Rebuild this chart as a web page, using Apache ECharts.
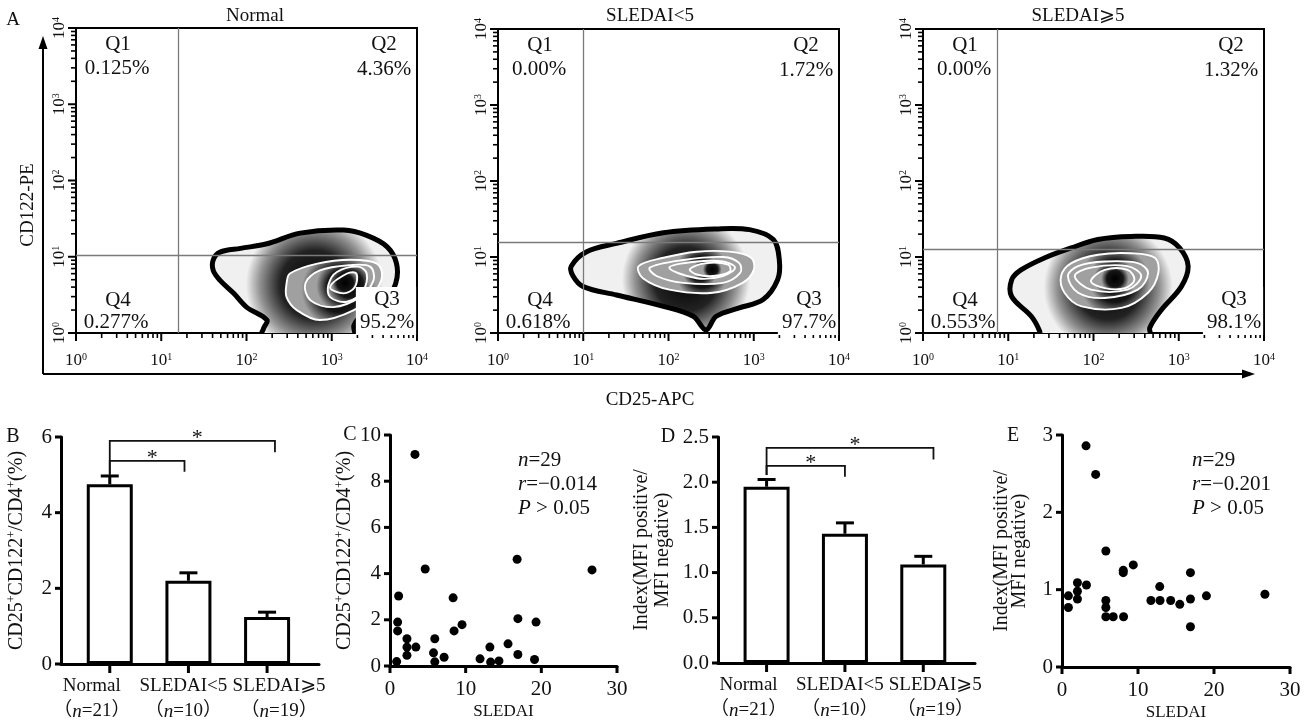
<!DOCTYPE html>
<html>
<head>
<meta charset="utf-8">
<script src="https://cdn.jsdelivr.net/npm/echarts@6/dist/echarts.min.js"></script>
<style>
  html, body { margin: 0; padding: 0; background: #fff; }
  #chart { width: 1305px; height: 724px; }
</style>
</head>
<body>
<div id="chart"></div>
<script>
// ---------- data ----------
// A: flow plots, all coordinates are log10 decades (10^0 .. 10^4)
const flowTitles = ['Normal', 'SLEDAI<5', 'SLEDAI⩾5'];
const decades = [0, 1, 2, 3, 4];
const flowGates = [[1.2, 1.02], [1.0, 1.2], [0.87, 1.1]]; // [x gate, y gate]
const normalQuad = ['0.125%', '4.36%', '95.2%', '0.277%']; // Q1 Q2 Q3 Q4
const lowQuad = ['0.00%', '1.72%', '97.7%', '0.618%'];
const highQuad = ['0.00%', '1.32%', '98.1%', '0.553%'];

// contour rings, outermost first
const normalContours = [
  [[1.61, 0.96], [1.69, 1.06], [1.93, 1.11], [2.24, 1.17], [2.63, 1.31], [3.14, 1.35], [3.41, 1.28], [3.65, 1.13], [3.76, 0.91], [3.75, 0.65], [3.61, 0.39], [3.37, 0.25], [3.26, 0.10], [3.26, -0.05], [2.18, -0.05], [2.20, 0.06], [2.24, 0.17], [2.00, 0.34], [1.85, 0.52], [1.69, 0.69], [1.61, 0.82]],
  [[2.47, 0.65], [2.51, 0.78], [2.83, 0.91], [3.22, 0.96], [3.53, 0.91], [3.59, 0.74], [3.49, 0.52], [3.26, 0.30], [2.86, 0.17], [2.59, 0.30], [2.47, 0.47]],
  [[2.69, 0.65], [2.86, 0.82], [3.22, 0.89], [3.45, 0.87], [3.49, 0.69], [3.33, 0.47], [3.02, 0.34], [2.75, 0.43]],
  [[2.96, 0.63], [3.06, 0.80], [3.31, 0.87], [3.41, 0.78], [3.37, 0.56], [3.18, 0.41], [2.98, 0.47]],
  [[2.98, 0.60], [3.18, 0.78], [3.29, 0.78], [3.27, 0.60], [3.14, 0.52]]
];
const lowContours = [
  [[0.86, 0.88], [1.04, 1.07], [1.39, 1.18], [1.94, 1.32], [2.56, 1.37], [2.95, 1.36], [3.23, 1.23], [3.30, 0.96], [3.28, 0.70], [3.11, 0.44], [2.83, 0.33], [2.56, 0.22], [2.44, 0.04], [2.29, 0.22], [1.94, 0.35], [1.39, 0.50], [1.00, 0.61], [0.88, 0.75]],
  [[1.65, 0.88], [1.94, 0.99], [2.33, 1.07], [2.72, 1.07], [2.97, 0.99], [3.00, 0.83], [2.87, 0.66], [2.52, 0.53], [2.01, 0.57], [1.70, 0.72]],
  [[1.78, 0.86], [2.17, 0.96], [2.64, 1.00], [2.83, 0.92], [2.84, 0.79], [2.64, 0.66], [2.17, 0.66], [1.86, 0.75]],
  [[2.01, 0.86], [2.33, 0.94], [2.64, 0.94], [2.78, 0.86], [2.64, 0.75], [2.33, 0.72]],
  [[2.25, 0.84], [2.44, 0.92], [2.70, 0.90], [2.72, 0.81], [2.52, 0.75], [2.33, 0.77]]
];
const highContours = [
  [[1.37, -0.05], [1.37, 0.02], [1.27, 0.22], [1.04, 0.48], [1.04, 0.70], [1.15, 0.83], [1.43, 0.99], [1.74, 1.12], [2.05, 1.23], [2.44, 1.27], [2.83, 1.25], [3.01, 1.12], [3.11, 0.88], [3.03, 0.61], [2.80, 0.31], [2.66, 0.07], [2.66, -0.05]],
  [[1.62, 0.75], [1.74, 0.92], [2.05, 1.03], [2.44, 1.05], [2.72, 0.99], [2.76, 0.79], [2.64, 0.53], [2.33, 0.33], [1.86, 0.35], [1.66, 0.53]],
  [[1.70, 0.75], [1.82, 0.88], [2.13, 0.94], [2.52, 0.92], [2.64, 0.79], [2.52, 0.57], [2.13, 0.46], [1.82, 0.53]],
  [[1.78, 0.75], [1.97, 0.86], [2.40, 0.88], [2.56, 0.75], [2.40, 0.57], [1.97, 0.57]],
  [[1.97, 0.68], [2.13, 0.83], [2.40, 0.83], [2.48, 0.70], [2.37, 0.59], [2.13, 0.59]]
];

// B, D: group bars
const groups = ['Normal', 'SLEDAI<5', 'SLEDAI⩾5'];
const groupN = [21, 10, 19];
const groupPos = [0, 1, 2];
const ratioMean = [4.75, 2.2, 1.24];
const ratioTop = [4.97, 2.41, 1.37];
const ratioTicks = [0, 2, 4, 6];
const indexMean = [1.95, 1.43, 1.09];
const indexTop = [2.03, 1.55, 1.18];
const indexTicks = [0, 0.5, 1, 1.5, 2, 2.5];
// [from, to, level, left leg end, right leg end]
const ratioBrackets = [[0, 0.95, 5.37, 5.0, 5.08], [0, 2.1, 5.9, 5.0, 5.6]];
const indexBrackets = [[0, 1.0, 2.18, 2.08, 2.06], [0, 2.13, 2.38, 2.08, 2.25]];

// C, E: SLEDAI vs value
const sledaiTicks = [0, 10, 20, 30];
const ratioScatterTicks = [0, 2, 4, 6, 8, 10];
const indexScatterTicks = [0, 1, 2, 3];
const sledaiRatio = [
  [3.3, 9.16], [4.65, 4.2], [26.7, 4.16], [16.8, 4.62], [1.14, 3.03], [8.34, 2.95],
  [1.01, 1.9], [1.01, 1.52], [16.9, 2.05], [19.3, 1.9], [8.47, 1.52], [9.52, 1.79],
  [2.24, 1.18], [5.92, 1.18], [2.24, 0.82], [3.42, 0.82], [2.24, 0.46], [5.75, 0.57],
  [7.15, 0.38], [5.92, 0.18], [0.88, 0.19], [13.2, 0.82], [15.6, 0.96], [16.9, 0.5],
  [11.9, 0.31], [13.3, 0.17], [14.4, 0.22], [19.1, 0.28]
];
const sledaiIndex = [
  [3.16, 2.86], [4.43, 2.49], [5.77, 1.5], [8.06, 1.25], [8.06, 1.22], [9.38, 1.32],
  [16.9, 1.22], [0.84, 0.92], [0.84, 0.77], [2.03, 1.09], [2.03, 0.98], [2.03, 0.88],
  [3.22, 1.06], [5.77, 0.86], [5.77, 0.77], [5.77, 0.65], [6.74, 0.65], [8.1, 0.65],
  [11.7, 0.86], [12.86, 1.04], [12.9, 0.86], [14.3, 0.86], [15.5, 0.81], [16.9, 0.88],
  [16.9, 0.52], [19.0, 0.92], [26.7, 0.94]
];

// ---------- chart ----------
const SERIF = '"Liberation Serif", "DejaVu Serif", "DejaVu Sans", "Noto Sans CJK SC", serif';
const INK = '#111';

// minor log ticks 2..9 inside every decade
const minorTicks = [];
for (let d = 0; d < 4; d++) {
  for (let k = 2; k < 10; k++) minorTicks.push(d + Math.log10(k));
}

const decadeRich = {
  b: { fontSize: 17, fontFamily: SERIF, color: INK },
  s: { fontSize: 10, fontFamily: SERIF, color: INK, verticalAlign: 'top' }
};

const grids = [];
const xAxes = [];
const yAxes = [];
const series = [];
const elements = [];

function txt(x, y, text, size, extra) {
  elements.push(Object.assign({
    type: 'text', x: x, y: y, z: 100,
    style: Object.assign({
      text: text, fill: INK, font: size + 'px ' + SERIF,
      align: 'center', verticalAlign: 'middle'
    }, extra && extra.style)
  }, extra && extra.el));
}

// tick marks drawn through the axis scales
function tickSeries(xi, yi, vals, dim, base, len, width) {
  series.push({
    type: 'custom', xAxisIndex: xi, yAxisIndex: yi, silent: true, clip: false, z: 5,
    data: vals.map(v => (dim === 'x' ? [v, base] : [base, v])),
    renderItem: (params, api) => {
      const p = api.coord([api.value(0), api.value(1)]);
      const shape = dim === 'x'
        ? { x1: p[0], y1: p[1], x2: p[0], y2: p[1] + len }
        : { x1: p[0], y1: p[1], x2: p[0] - len, y2: p[1] };
      return { type: 'line', shape: shape, style: { stroke: '#000', lineWidth: width } };
    }
  });
}

function decadeAxis(g, vertical) {
  return {
    gridIndex: g, type: 'value', min: 0, max: 4, interval: 1,
    axisLine: { show: false },
    splitLine: { show: false },
    axisTick: { show: false },
    axisLabel: {
      show: true, rotate: vertical ? 90 : 0, margin: vertical ? 8 : 19,
      formatter: v => '{b|10}{s|' + v + '}', rich: decadeRich
    }
  };
}

// A: three flow plots
const flowBoxes = [
  { left: 76, top: 28, width: 341, height: 305 },
  { left: 498, top: 29, width: 341, height: 304 },
  { left: 923, top: 29, width: 341, height: 304 }
];
const flowTitleX = [255, 650, 1078];
const flowContours = [normalContours, lowContours, highContours];
const flowQuads = [normalQuad, lowQuad, highQuad];

flowBoxes.forEach((box, k) => {
  const g = grids.length;
  grids.push(Object.assign({ show: true, borderColor: '#000', borderWidth: 2, backgroundColor: 'transparent' }, box));
  const xi = xAxes.length;
  xAxes.push(decadeAxis(g, false));
  const yi = yAxes.length;
  yAxes.push(decadeAxis(g, true));

  const rings = flowContours[k];
  const gate = flowGates[k];
  series.push({
    type: 'custom', xAxisIndex: xi, yAxisIndex: yi, clip: true, silent: true,
    data: rings.map((r, i) => [r[0][0], r[0][1], i]),
    renderItem: (params, api) => {
      const ring = rings[api.value(2)];
      const outer = params.dataIndex === 0;
      return {
        type: 'polygon',
        shape: { points: ring.map(p => api.coord(p)), smooth: 0.35 },
        style: {
          fill: {
            type: 'radial', x: 0.55, y: 0.5, r: 0.6, global: false,
            colorStops: outer
              ? [{ offset: 0, color: '#000' }, { offset: 0.5, color: '#222' }, { offset: 0.8, color: '#949494' }, { offset: 1, color: '#f0f0f0' }]
              : [{ offset: 0, color: '#000' }, { offset: 0.6, color: '#151515' }, { offset: 1, color: '#a0a0a0' }]
          },
          stroke: outer ? '#000' : '#fff',
          lineWidth: outer ? 5 : 1.9
        }
      };
    },
    markLine: {
      silent: true, symbol: 'none', label: { show: false },
      lineStyle: { color: '#7a7a7a', width: 1.3, type: 'solid' },
      data: [{ xAxis: gate[0] }, { yAxis: gate[1] }]
    }
  });
  tickSeries(xi, yi, decades, 'x', 0, 8, 2);
  tickSeries(xi, yi, minorTicks, 'x', 0, 5, 1.6);
  tickSeries(xi, yi, decades, 'y', 0, 8, 2);
  tickSeries(xi, yi, minorTicks, 'y', 0, 5, 1.6);

  const q = flowQuads[k];
  const L = box.left, T = box.top, R = box.left + box.width, B = box.top + box.height;
  txt(flowTitleX[k], 16, flowTitles[k], 19);
  txt(L + 42, T + 16, 'Q1', 21);
  txt(L + 41, T + 40, q[0], 21);
  txt(R - 33, T + 16, 'Q2', 21);
  txt(R - 33, T + 41, q[1], 21);
  txt(L + 42, B - 33, 'Q4', 21);
  txt(L + 40, B - 11, q[3], 21);
  txt(R - 31, B - 22, 'Q3\n' + q[2], 21, {
    style: { lineHeight: 23, backgroundColor: '#fff', padding: [2, 2, 0, 4] }
  });
});

const nameRich = {
  n: { fontSize: 20, fontFamily: SERIF, color: INK },
  s: { fontSize: 12, fontFamily: SERIF, color: INK, verticalAlign: 'top' }
};

// B and D: bar panels
function groupPanel(box, means, tops, brackets, yMax, yTicks, digits, yName, nameGap, nameLine) {
  const g = grids.length;
  grids.push(box);
  const xi = xAxes.length;
  xAxes.push({
    gridIndex: g, type: 'value', min: -0.62, max: 2.66,
    axisLine: { show: true, onZero: false, lineStyle: { color: '#000', width: 3 } },
    splitLine: { show: false }, axisTick: { show: false }, axisLabel: { show: false }
  });
  const yi = yAxes.length;
  yAxes.push({
    gridIndex: g, type: 'value', min: 0, max: yMax, interval: yTicks[1] - yTicks[0],
    axisLine: { show: true, onZero: false, lineStyle: { color: '#000', width: 3 } },
    splitLine: { show: false }, axisTick: { show: false },
    axisLabel: { fontSize: 21, fontFamily: SERIF, color: INK, margin: 9, formatter: v => v.toFixed(digits) },
    name: yName, nameLocation: 'middle', nameRotate: 90, nameGap: nameGap,
    nameTextStyle: { fontSize: 20, fontFamily: SERIF, color: INK, lineHeight: nameLine, rich: nameRich }
  });
  series.push({
    type: 'bar', xAxisIndex: xi, yAxisIndex: yi, barWidth: 46, silent: true,
    data: means.map((m, i) => [groupPos[i], m]),
    itemStyle: { color: '#fff', borderColor: '#000', borderWidth: 3 }
  });
  const labelShift = [-18, -5, 12];
  const catRich = {
    t: { fontSize: 19, lineHeight: 25, fontFamily: SERIF, color: INK },
    i: { fontSize: 19, lineHeight: 25, fontFamily: SERIF, fontStyle: 'italic', color: INK }
  };
  // error bars plus the category captions under each bar
  series.push({
    type: 'custom', xAxisIndex: xi, yAxisIndex: yi, silent: true, clip: false,
    data: tops.map((t, i) => [groupPos[i], means[i], t, i]),
    encode: { x: 0, y: [1, 2] },
    renderItem: (params, api) => {
      const i = api.value(3);
      const base = api.coord([api.value(0), api.value(1)]);
      const top = api.coord([api.value(0), api.value(2)]);
      const foot = api.coord([api.value(0), 0]);
      return {
        type: 'group', children: [
          { type: 'line', shape: { x1: base[0], y1: base[1], x2: top[0], y2: top[1] }, style: { stroke: '#000', lineWidth: 3 } },
          { type: 'line', shape: { x1: top[0] - 9, y1: top[1], x2: top[0] + 9, y2: top[1] }, style: { stroke: '#000', lineWidth: 3 } },
          {
            type: 'text', x: foot[0] + labelShift[i], y: foot[1] + 10,
            style: {
              text: '{t|' + groups[i] + '}\n{t|（}{i|n}{t|=' + groupN[i] + '）}',
              rich: catRich, align: 'center', verticalAlign: 'top', fill: INK
            }
          }
        ]
      };
    }
  });
  series.push({
    type: 'custom', xAxisIndex: xi, yAxisIndex: yi, silent: true,
    data: brackets,
    encode: { x: [0, 1], y: [2, 3, 4] },
    renderItem: (params, api) => {
      const x0 = api.value(0), x1 = api.value(1), lv = api.value(2);
      const pts = [
        api.coord([x0, api.value(3)]), api.coord([x0, lv]),
        api.coord([x1, lv]), api.coord([x1, api.value(4)])
      ];
      const mid = api.coord([(x0 + x1) / 2, lv]);
      return {
        type: 'group', children: [
          { type: 'polyline', shape: { points: pts }, style: { stroke: INK, lineWidth: 1.8, fill: null } },
          { type: 'text', x: mid[0] + 5, y: mid[1] - 3, style: { text: '*', font: '22px ' + SERIF, fill: INK, align: 'center', verticalAlign: 'middle' } }
        ]
      };
    }
  });
  tickSeries(xi, yi, groupPos, 'x', 0, 9, 3);
  tickSeries(xi, yi, yTicks, 'y', -0.62, 6, 3);
}

// C and E: scatter panels
function scatterPanel(box, points, yTicks, yName, nameGap, nameLine) {
  const g = grids.length;
  grids.push(box);
  const xi = xAxes.length;
  xAxes.push({
    gridIndex: g, type: 'value', min: 0, max: 30, interval: 10,
    axisLine: { show: true, onZero: false, lineStyle: { color: '#000', width: 3 } },
    splitLine: { show: false }, axisTick: { show: false },
    axisLabel: { fontSize: 21, fontFamily: SERIF, color: INK, margin: 13 },
    name: 'SLEDAI', nameLocation: 'middle', nameGap: 37,
    nameTextStyle: { fontSize: 17, fontFamily: SERIF, color: INK }
  });
  const yi = yAxes.length;
  yAxes.push({
    gridIndex: g, type: 'value', min: 0, max: yTicks[yTicks.length - 1], interval: yTicks[1] - yTicks[0],
    axisLine: { show: true, onZero: false, lineStyle: { color: '#000', width: 3 } },
    splitLine: { show: false }, axisTick: { show: false },
    axisLabel: { fontSize: 21, fontFamily: SERIF, color: INK, margin: 9 },
    name: yName, nameLocation: 'middle', nameRotate: 90, nameGap: nameGap,
    nameTextStyle: { fontSize: 20, fontFamily: SERIF, color: INK, lineHeight: nameLine, rich: nameRich }
  });
  series.push({
    type: 'scatter', xAxisIndex: xi, yAxisIndex: yi, silent: true,
    symbol: 'circle', symbolSize: 9, itemStyle: { color: '#000', opacity: 1 },
    data: points
  });
  tickSeries(xi, yi, sledaiTicks, 'x', 0, 7, 3);
  tickSeries(xi, yi, yTicks, 'y', 0, 6, 3);
}

const ratioName = '{n|CD25}{s|+}{n|CD122}{s|+}{n|/CD4}{s|+}{n|(%)}';
const indexName = 'Index(MFI positive/\nMFI negative)';

groupPanel({ left: 61, top: 437, width: 258, height: 227 }, ratioMean, ratioTop, ratioBrackets, 6, ratioTicks, 0, ratioName, 33, 22);
scatterPanel({ left: 390, top: 435, width: 227, height: 231 }, sledaiRatio, ratioScatterTicks, ratioName, 33, 22);
groupPanel({ left: 718, top: 437, width: 257, height: 226 }, indexMean, indexTop, indexBrackets, 2.5, indexTicks, 1, indexName, 45, 21);
scatterPanel({ left: 1062, top: 435, width: 228, height: 232 }, sledaiIndex, indexScatterTicks, indexName, 33, 18);

// panel letters and stats
txt(13, 20, 'A', 19);
txt(13, 437, 'B', 20);
txt(350, 435, 'C', 20);
txt(668, 437, 'D', 20);
txt(1013, 436, 'E', 20);

const statRich = {
  i: { fontSize: 21, fontFamily: SERIF, fontStyle: 'italic', color: INK, lineHeight: 24 },
  t: { fontSize: 21, fontFamily: SERIF, color: INK, lineHeight: 24 }
};
txt(518, 484, '{i|n}{t|=29}\n{i|r}{t|=−0.014}\n{i|P}{t| > 0.05}', 21, { style: { align: 'left', rich: statRich, lineHeight: 24 } });
txt(1192, 484, '{i|n}{t|=29}\n{i|r}{t|=−0.201}\n{i|P}{t| > 0.05}', 21, { style: { align: 'left', rich: statRich, lineHeight: 24 } });

// A: outer arrow axes and their titles
elements.push(
  { type: 'polyline', z: 100, shape: { points: [[43, 374], [43, 48]] }, style: { stroke: '#000', lineWidth: 2, fill: null } },
  { type: 'polygon', z: 100, shape: { points: [[43, 36], [38.5, 49], [47.5, 49]] }, style: { fill: '#000' } },
  { type: 'polyline', z: 100, shape: { points: [[43, 374], [1242, 374]] }, style: { stroke: '#000', lineWidth: 2, fill: null } },
  { type: 'polygon', z: 100, shape: { points: [[1255, 374], [1242, 369.5], [1242, 378.5]] }, style: { fill: '#000' } }
);
txt(28, 205, 'CD122-PE', 19, { el: { rotation: Math.PI / 2 } });
txt(650, 400, 'CD25-APC', 19);

const chart = echarts.init(document.getElementById('chart'));
chart.setOption({
  animation: false,
  backgroundColor: '#fff',
  textStyle: { fontFamily: SERIF, color: INK },
  grid: grids,
  xAxis: xAxes,
  yAxis: yAxes,
  series: series,
  graphic: { elements: elements }
});
</script>
</body>
</html>
